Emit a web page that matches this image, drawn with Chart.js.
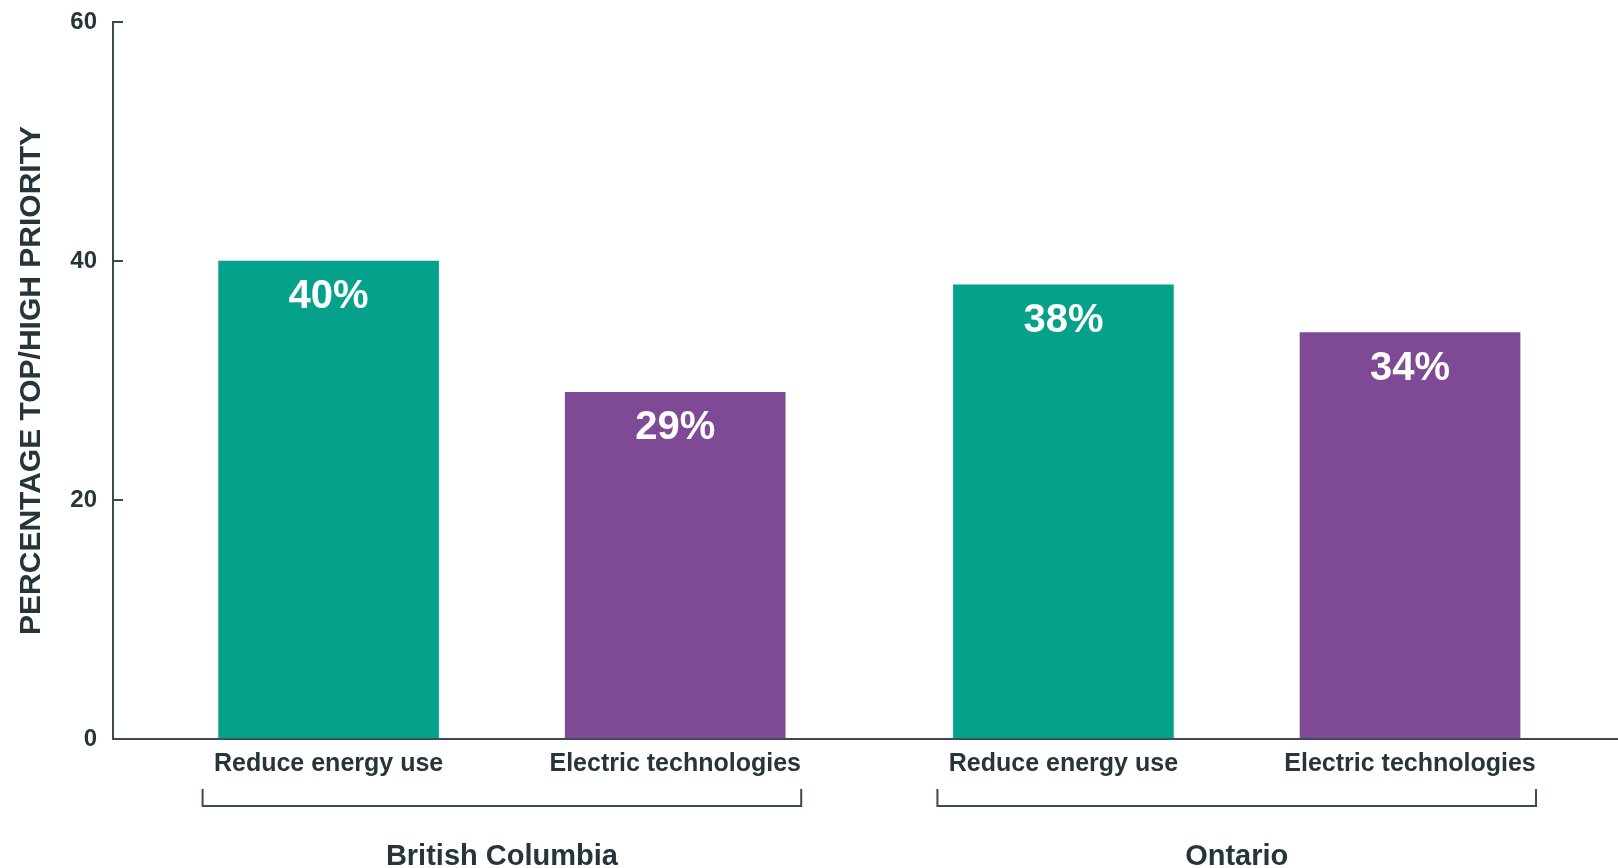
<!DOCTYPE html>
<html>
<head>
<meta charset="utf-8">
<script src="https://cdn.jsdelivr.net/npm/chart.js@4.4.1/dist/chart.umd.min.js"></script>
<style>
  html, body { margin: 0; padding: 0; background: #ffffff; }
  #wrap { width: 1618px; height: 868px; position: relative; }
</style>
</head>
<body>
<div id="wrap"><canvas id="c"></canvas></div>
<script>
// ---- data ----
const groups = ["British Columbia", "Ontario"];
const seriesNames = ["Reduce energy use", "Electric technologies"];
const reduceEnergyUse = [40, 38];
const electricTechnologies = [29, 34];
const yTicks = [0, 20, 40, 60];
const yTitle = "PERCENTAGE TOP/HIGH PRIORITY";

// ---- styles / layout ----
const TEAL = "#05a18a";
const PURPLE = "#7e4a96";
const TEXT = "#26353a";
const AXIS = "#3b4a4f";
const FONT = "'Liberation Sans', Arial, Helvetica, sans-serif";
const GROUP_GAP = 0.12;           // extra space between the two groups (in bar units)
const STEP = seriesNames.length + GROUP_GAP;
const X_MIN = -0.622, X_MAX = 3.72;
const BAR_PX = 220;

Chart.defaults.font.family = FONT;
Chart.defaults.color = TEXT;

const seriesValues = [reduceEnergyUse, electricTechnologies];
const seriesColors = [TEAL, PURPLE];

const barPositions = [];
const barLabels = [];
groups.forEach((g, gi) => seriesNames.forEach((s, si) => {
  barPositions.push(gi * STEP + si);
  barLabels.push(s);
}));
const groupCenters = groups.map((g, gi) => gi * STEP + (seriesNames.length - 1) / 2);

const datasets = seriesNames.map((name, si) => ({
  label: name,
  data: groups.map((g, gi) => ({ x: gi * STEP + si, y: seriesValues[si][gi] })),
  backgroundColor: seriesColors[si],
  borderWidth: 0,
  grouped: false,
  barThickness: BAR_PX
}));

const valueLabels = {
  id: "valueLabels",
  afterDatasetsDraw(chart) {
    const ctx = chart.ctx;
    ctx.save();
    ctx.fillStyle = "#ffffff";
    ctx.font = "bold 40px " + FONT;
    ctx.textAlign = "center";
    ctx.textBaseline = "middle";
    chart.data.datasets.forEach((ds, di) => {
      const meta = chart.getDatasetMeta(di);
      meta.data.forEach((el, i) => {
        ctx.fillText(ds.data[i].y + "%", el.x, el.y + 36);
      });
    });
    ctx.restore();
  }
};

const groupBrackets = {
  id: "groupBrackets",
  afterDraw(chart) {
    const xs = chart.scales.x;
    const ctx = chart.ctx;
    const yTop = chart.chartArea.bottom + 50;
    const yBot = chart.chartArea.bottom + 67;
    ctx.save();
    ctx.strokeStyle = AXIS;
    ctx.lineWidth = 2;
    groups.forEach((g, gi) => {
      const first = xs.getPixelForValue(gi * STEP) - BAR_PX / 2 - 16;
      const last = xs.getPixelForValue(gi * STEP + seriesNames.length - 1) + BAR_PX / 2 + 16;
      ctx.beginPath();
      ctx.moveTo(first, yTop);
      ctx.lineTo(first, yBot);
      ctx.lineTo(last, yBot);
      ctx.lineTo(last, yTop);
      ctx.stroke();
    });
    ctx.restore();
  }
};

new Chart(document.getElementById("c"), {
  type: "bar",
  data: { datasets },
  options: {
    responsive: true,
    maintainAspectRatio: false,
    animation: false,
    layout: { autoPadding: false, padding: { top: 22, right: 0, left: 0, bottom: 0 } },
    plugins: { legend: { display: false }, tooltip: { enabled: false } },
    scales: {
      x: {
        type: "linear",
        position: "bottom",
        offset: false,
        weight: 0,
        min: X_MIN, max: X_MAX,
        afterBuildTicks: s => { s.ticks = barPositions.map(v => ({ value: v })); },
        afterFit: s => { s.height = 60; s.paddingLeft = 0; s.paddingRight = 0; },
        grid: { display: false, drawTicks: false },
        border: { display: true, color: AXIS, width: 2 },
        ticks: {
          autoSkip: false, maxRotation: 0, padding: 10,
          color: TEXT,
          font: { size: 25, weight: "bold" },
          callback: (v, i) => barLabels[i]
        }
      },
      xg: {
        type: "linear",
        position: "bottom",
        offset: false,
        weight: 1,
        min: X_MIN, max: X_MAX,
        afterBuildTicks: s => { s.ticks = groupCenters.map(v => ({ value: v })); },
        afterFit: s => { s.height = 69; s.paddingLeft = 0; s.paddingRight = 0; },
        grid: { display: false, drawTicks: false },
        border: { display: false },
        ticks: {
          autoSkip: false, maxRotation: 0, padding: 41,
          color: TEXT,
          font: { size: 29, weight: "bold" },
          callback: (v, i) => groups[i]
        }
      },
      y: {
        min: 0, max: 60,
        afterBuildTicks: s => { s.ticks = yTicks.map(v => ({ value: v })); },
        afterFit: s => { s.width = 113; s.paddingTop = 0; s.paddingBottom = 0; },
        grid: {
          display: true, drawOnChartArea: false, drawTicks: true,
          tickLength: -10, color: AXIS, tickColor: AXIS, lineWidth: 2
        },
        border: { display: true, color: AXIS, width: 2 },
        ticks: {
          padding: 26, color: TEXT,
          font: { size: 24, weight: "bold" }
        },
        title: {
          display: true, text: yTitle, color: TEXT,
          font: { size: 30, weight: "bold" },
          padding: { top: 14, bottom: 10 }
        }
      }
    }
  },
  plugins: [valueLabels, groupBrackets]
});
</script>
</body>
</html>
